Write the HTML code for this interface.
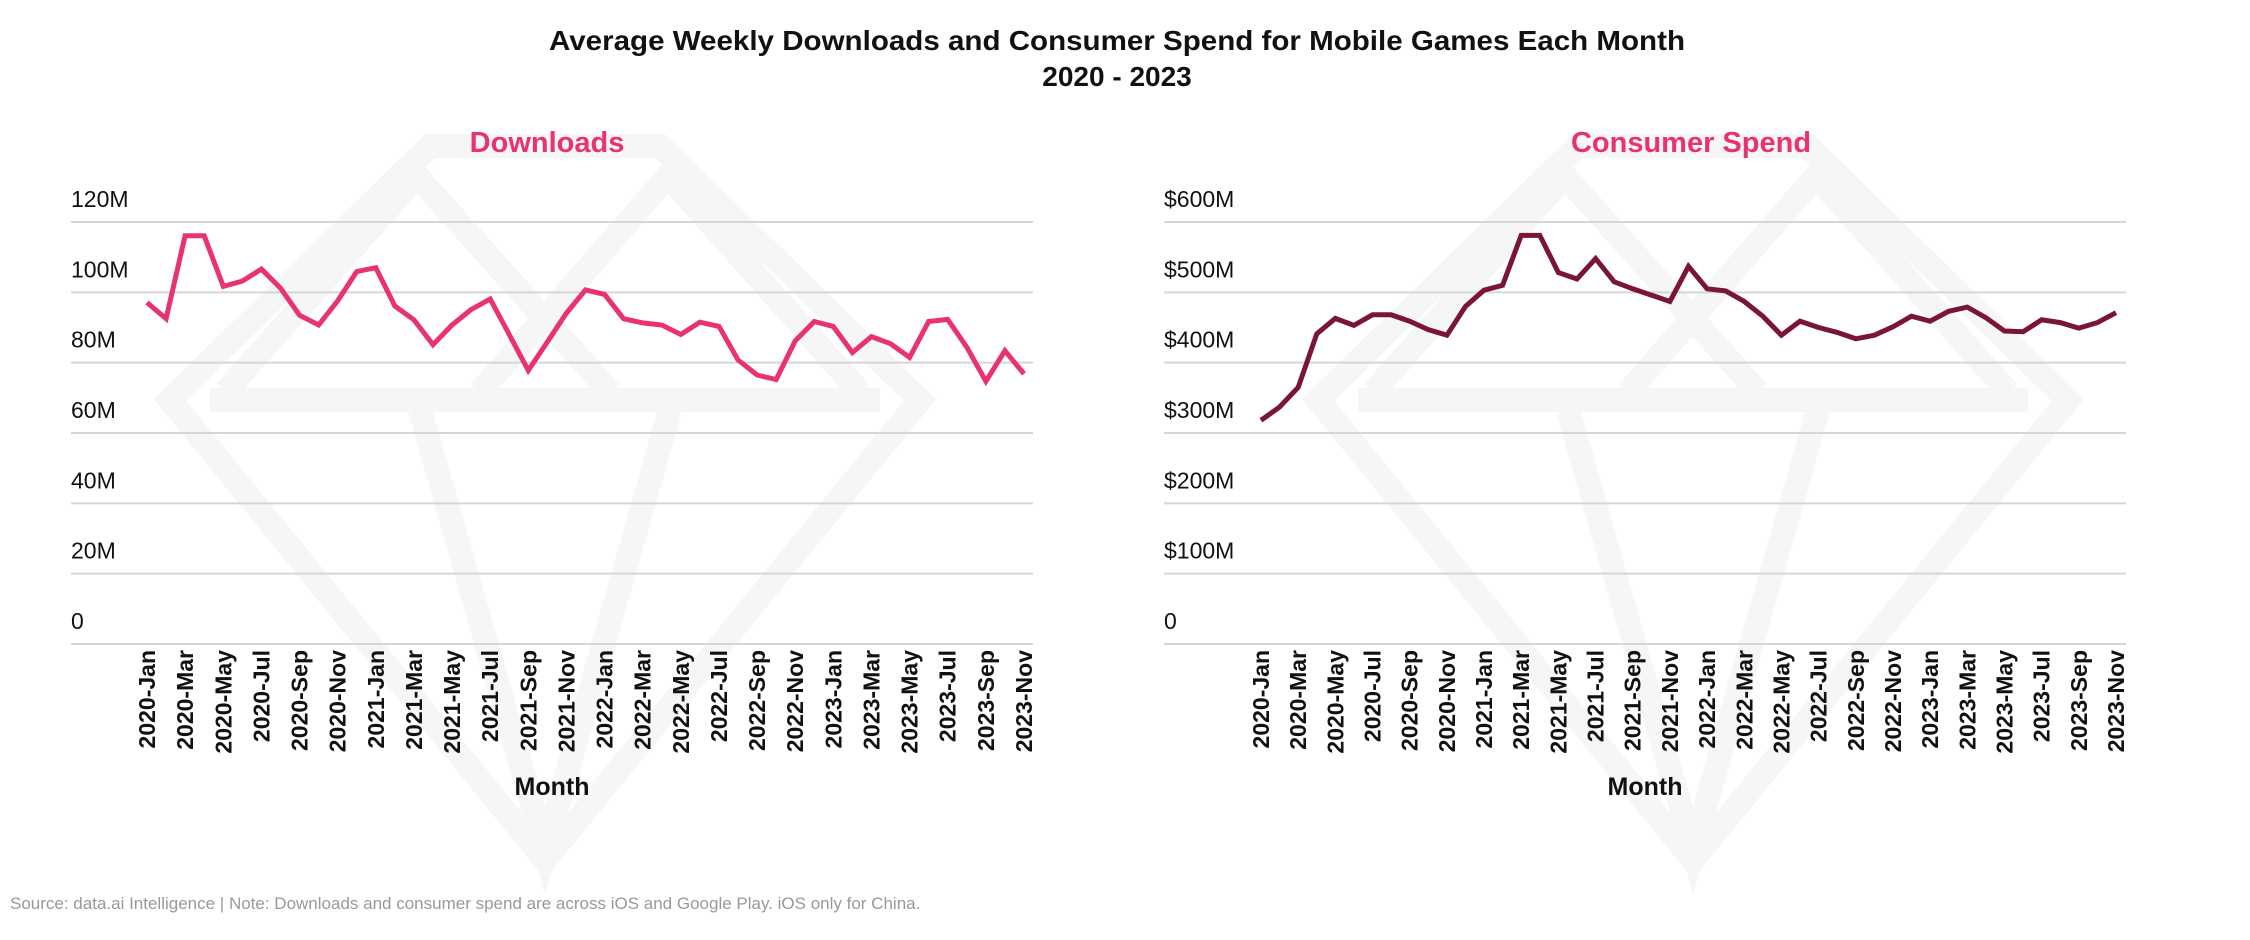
<!DOCTYPE html>
<html><head><meta charset="utf-8"><style>
html,body{margin:0;padding:0;background:#fff;}
svg{display:block;font-family:"Liberation Sans",sans-serif;}
</style></head><body>
<svg id="c" width="2250" height="940" viewBox="0 0 2250 940" xmlns="http://www.w3.org/2000/svg">
<g id="wm"></g>
<text x="1117" y="50" text-anchor="middle" font-size="28" font-weight="bold" fill="#111" textLength="1136" lengthAdjust="spacingAndGlyphs">Average Weekly Downloads and Consumer Spend for Mobile Games Each Month</text>
<text x="1117" y="86" text-anchor="middle" font-size="28" font-weight="bold" fill="#111">2020 - 2023</text>
<text x="547" y="152" text-anchor="middle" font-size="29" font-weight="bold" fill="#e8336d">Downloads</text>
<text x="1691" y="152" text-anchor="middle" font-size="29" font-weight="bold" fill="#e8336d">Consumer Spend</text>
<g id="p1"></g>
<g id="p2"></g>
<text x="10" y="909" font-size="17" fill="#999">Source: data.ai Intelligence | Note: Downloads and consumer spend are across iOS and Google Play. iOS only for China.</text>
</svg>
<script>
const months = ["Jan","Feb","Mar","Apr","May","Jun","Jul","Aug","Sep","Oct","Nov","Dec"];
const categories = [];
for (let y = 2020; y <= 2023; y++) for (let m = 0; m < 12; m++) { if (y === 2023 && m > 10) break; categories.push(y + "-" + months[m]); }
const downloads = [97.1,92.5,116.1,116.1,101.7,103.2,106.6,101.2,93.5,90.7,97.6,105.9,107,96.1,92.2,85.1,90.7,95.1,98.1,88,77.8,85.9,94.1,100.7,99.4,92.5,91.3,90.7,88,91.5,90.3,80.8,76.5,75.2,86.2,91.7,90.3,82.9,87.4,85.4,81.5,91.7,92.3,84.4,74.7,83.4,76.8];
const spend = [318,337,365,441,463,453,468,468,459,447,439,480,503,510,581,581,528,519,548,515,505,496,487,537,505,502,487,466,439,459,450,443,434,439,451,466,459,473,479,464,445,444,461,457,449,457,471];
const dlTicks = [0,20,40,60,80,100,120];
const dlTickLabels = ["0","20M","40M","60M","80M","100M","120M"];
const spTicks = [0,100,200,300,400,500,600];
const spTickLabels = ["0","$100M","$200M","$300M","$400M","$500M","$600M"];
const NS = "http://www.w3.org/2000/svg";
function mk(parent, tag, attrs) { const e = document.createElementNS(NS, tag); for (const k in attrs) e.setAttribute(k, attrs[k]); parent.appendChild(e); return e; }

const wm = document.getElementById('wm');
[0, 1148].forEach(function(dx){
  const g = mk(wm, 'g', {transform: 'translate(' + dx + ',0)', fill: 'none', stroke: '#f6f6f6', 'stroke-width': 24, 'stroke-linejoin': 'miter'});
  
  
  mk(g, 'polygon', {points: '430,146 660,146 920,400 545,860 170,400'});
  mk(g, 'polyline', {points: '210,400 880,400'});
  mk(g, 'polyline', {points: '225,392 417,176 610,392'});
  mk(g, 'polyline', {points: '480,392 668,176 860,392'});
  mk(g, 'polyline', {points: '420,410 545,850 670,410'});
});

function drawPanel(id, x0, x1, firstX, lastX, ticks, tickLabels, maxV, values, color, name) {
  const g = document.getElementById(id);
  const yTop = 222, yBot = 644;
  const yScale = v => yBot - (v / maxV) * (yBot - yTop);
  const xScale = i => firstX + i * (lastX - firstX) / (categories.length - 1);
  ticks.forEach(function(t, i){
    const l = mk(g, 'line', {x1: x0, x2: x1, y1: yScale(t), y2: yScale(t), stroke: '#d6d6d6', 'stroke-width': 2});
    
    
    const tx = mk(g, 'text', {x: x0, y: yScale(t) - 15, 'font-size': 23, fill: '#111'});
    tx.textContent = tickLabels[i];
    
    
  });
  categories.forEach(function(c, i){
    if (i % 2) return;
    const x = xScale(i);
    const tx = mk(g, 'text', {x: 0, y: 0, 'font-size': 23, 'font-weight': 'bold', fill: '#111', 'text-anchor': 'end', transform: 'translate(' + (x + 8) + ',650) rotate(-90)'});
    tx.textContent = c;
    
    
  });
  const at = mk(g, 'text', {x: (x0 + x1) / 2, y: 795, 'font-size': 25, 'font-weight': 'bold', fill: '#111', 'text-anchor': 'middle'});
  at.textContent = 'Month';
  
  
  const pts = values.map((v, i) => xScale(i).toFixed(1) + ',' + yScale(v).toFixed(1)).join(' ');
  const pl = mk(g, 'polyline', {points: pts, fill: 'none', stroke: color, 'stroke-width': 5, 'stroke-linejoin': 'miter'});
  
  
}
drawPanel('p1', 71, 1033, 147, 1024, dlTicks, dlTickLabels, 120, downloads, '#e8336d', 'downloads-line');
drawPanel('p2', 1164, 2126, 1261, 2116, spTicks, spTickLabels, 600, spend, '#7a1535', 'spend-line');
</script>
</body></html>
